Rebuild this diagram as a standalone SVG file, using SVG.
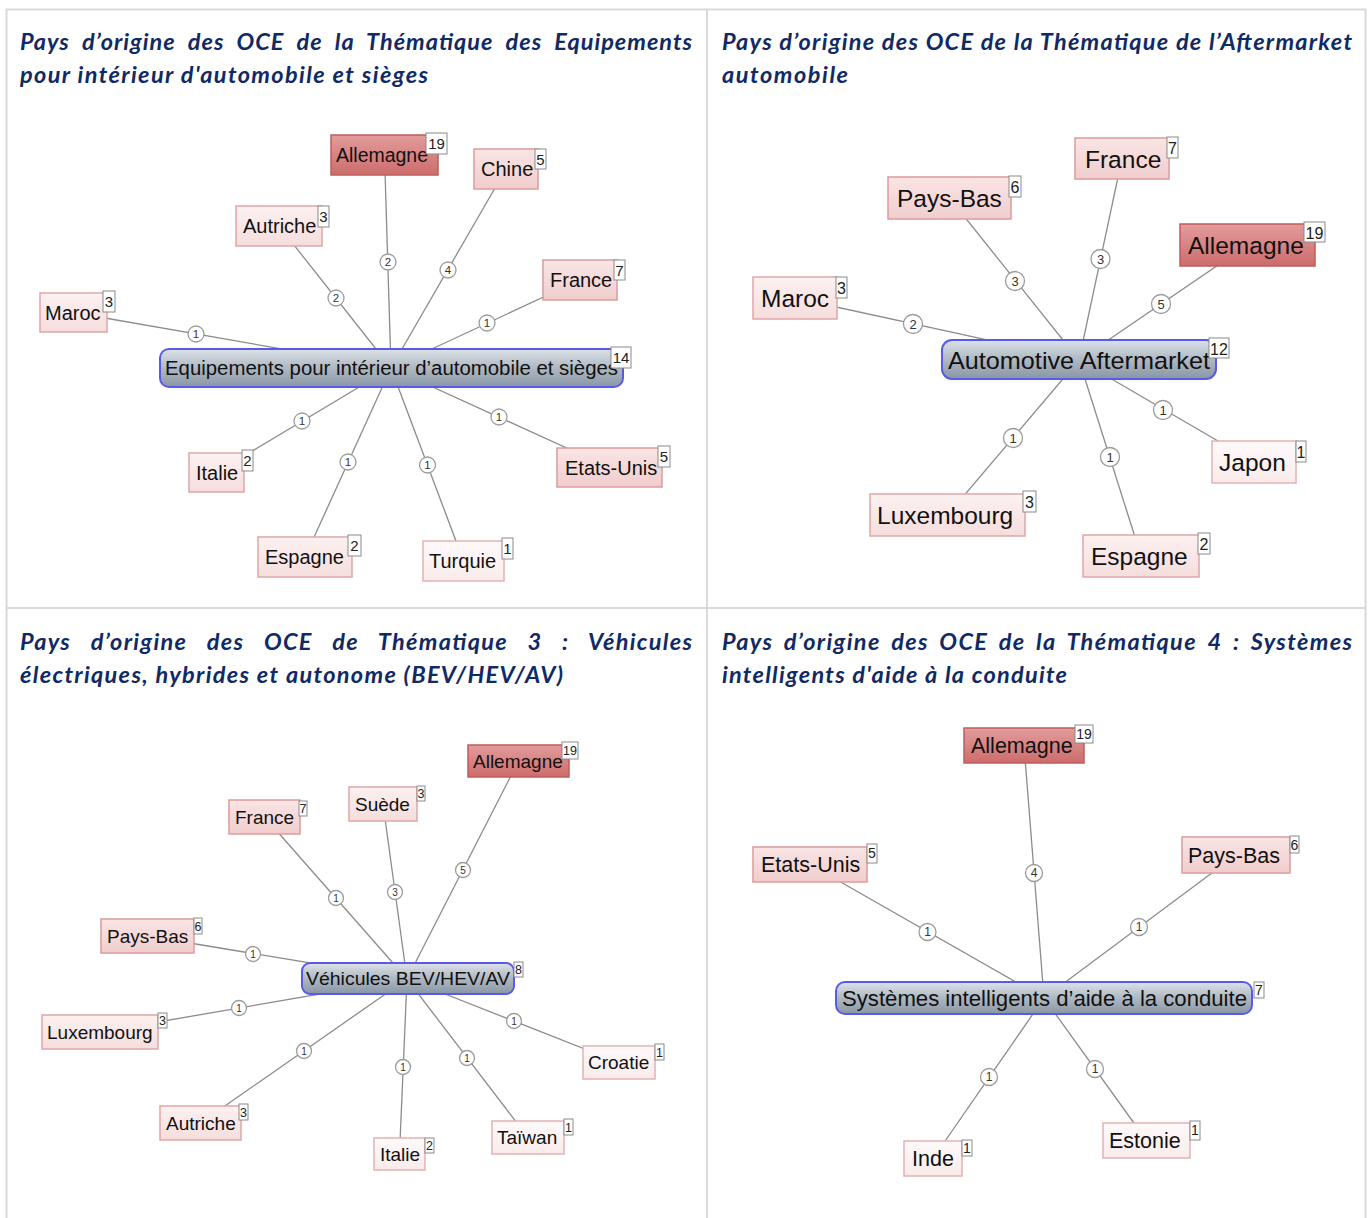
<svg xmlns="http://www.w3.org/2000/svg" width="1370" height="1218" viewBox="0 0 1370 1218">
<style>
.title{font-family:Lato,"Liberation Sans",sans-serif;font-weight:bold;font-style:italic;font-size:23.5px;fill:#102a66}
.t{font-family:"Liberation Sans",Arial,sans-serif;fill:#111}
.q1{font-size:20px}.q2{font-size:24.5px}.q3{font-size:19px}.q4{font-size:21.5px}
.b{fill:#fff;stroke:#8a8a8a;stroke-width:1}
.bt{font-family:"Liberation Sans",Arial,sans-serif;fill:#222;text-anchor:middle}
.e{stroke:#8c8c8c;stroke-width:1.3;fill:none}
.lc{fill:#fff;stroke:#9c9c9c;stroke-width:1.3}
.lt{font-family:"Liberation Sans",Arial,sans-serif;fill:#333;text-anchor:middle}
.c1{fill:url(#g1);stroke:#e4b2b2;stroke-width:1.5}
.c3{fill:url(#g3);stroke:#e0a6a6;stroke-width:1.5}
.c6{fill:url(#g6);stroke:#dc9c9c;stroke-width:1.5}
.c19{fill:url(#g19);stroke:#c05c5c;stroke-width:1.5}
.hub{fill:url(#gh);stroke:#5a5ae8;stroke-width:2}
.grid{fill:none;stroke:#d9d9d9;stroke-width:2}
</style>
<defs>
<linearGradient id="g1" x1="0" y1="0" x2="0" y2="1"><stop offset="0" stop-color="#fffafa"/><stop offset="1" stop-color="#f9ebeb"/></linearGradient>
<linearGradient id="g3" x1="0" y1="0" x2="0" y2="1"><stop offset="0" stop-color="#fdf1f1"/><stop offset="1" stop-color="#f5dddd"/></linearGradient>
<linearGradient id="g6" x1="0" y1="0" x2="0" y2="1"><stop offset="0" stop-color="#fae5e5"/><stop offset="1" stop-color="#f0cdcd"/></linearGradient>
<linearGradient id="g19" x1="0" y1="0" x2="0" y2="1"><stop offset="0" stop-color="#e39c9c"/><stop offset="1" stop-color="#cc6c6c"/></linearGradient>
<linearGradient id="gh" x1="0" y1="0" x2="0" y2="1"><stop offset="0" stop-color="#dde2e8"/><stop offset="0.45" stop-color="#b3bcc6"/><stop offset="1" stop-color="#8896a4"/></linearGradient>
</defs>
<rect width="1370" height="1218" fill="#fff"/>
<g id="table">
<rect class="grid" x="6.5" y="9.5" width="1359" height="1230"/>
<line class="grid" x1="707" y1="9.5" x2="707" y2="1218"/>
<line class="grid" x1="6.5" y1="608" x2="1365.5" y2="608"/>
</g>
<g id="titles">
<text class="title" x="20" y="50" word-spacing="6" textLength="672" lengthAdjust="spacing">Pays d’origine des OCE de la Thématique des Equipements</text>
<text class="title" x="20" y="83" textLength="408" lengthAdjust="spacing">pour intérieur d'automobile et sièges</text>
<text class="title" x="722" y="50" textLength="630" lengthAdjust="spacing">Pays d’origine des OCE de la Thématique de l’Aftermarket</text>
<text class="title" x="722" y="83" textLength="126" lengthAdjust="spacing">automobile</text>
<text class="title" x="20" y="650" word-spacing="13" textLength="672" lengthAdjust="spacing">Pays d’origine des OCE de Thématique 3 : Véhicules</text>
<text class="title" x="20" y="683" textLength="543" lengthAdjust="spacing">électriques, hybrides et autonome (BEV/HEV/AV)</text>
<text class="title" x="722" y="650" word-spacing="4" textLength="630" lengthAdjust="spacing">Pays d’origine des OCE de la Thématique 4 : Systèmes</text>
<text class="title" x="722" y="683" textLength="345" lengthAdjust="spacing">intelligents d'aide à la conduite</text>
</g>
<g id="connectors">
<g>
<line class="e" x1="73.5" y1="312.5" x2="391" y2="368"/>
<line class="e" x1="279" y1="226" x2="391" y2="368"/>
<line class="e" x1="384.5" y1="155" x2="391" y2="368"/>
<line class="e" x1="506" y1="169" x2="391" y2="368"/>
<line class="e" x1="580" y1="280" x2="391" y2="368"/>
<line class="e" x1="216.5" y1="472.5" x2="391" y2="368"/>
<line class="e" x1="305" y1="557" x2="391" y2="368"/>
<line class="e" x1="463.5" y1="561" x2="391" y2="368"/>
<line class="e" x1="609.5" y1="467.5" x2="391" y2="368"/>
<g font-size="11.5">
<circle class="lc" cx="196" cy="334" r="8"/><text class="lt" x="196" y="338">1</text>
<circle class="lc" cx="336" cy="298" r="8"/><text class="lt" x="336" y="302">2</text>
<circle class="lc" cx="388" cy="262" r="8"/><text class="lt" x="388" y="266">2</text>
<circle class="lc" cx="448" cy="270" r="8"/><text class="lt" x="448" y="274">4</text>
<circle class="lc" cx="487" cy="323" r="8"/><text class="lt" x="487" y="327">1</text>
<circle class="lc" cx="302" cy="421" r="8"/><text class="lt" x="302" y="425">1</text>
<circle class="lc" cx="348" cy="462" r="8"/><text class="lt" x="348" y="466">1</text>
<circle class="lc" cx="427.5" cy="465" r="8"/><text class="lt" x="427.5" y="469">1</text>
<circle class="lc" cx="499" cy="417" r="8"/><text class="lt" x="499" y="421">1</text>
</g>
</g>
<g>
<line class="e" x1="1122" y1="158.5" x2="1079" y2="360"/>
<line class="e" x1="949.5" y1="198" x2="1079" y2="360"/>
<line class="e" x1="1247.5" y1="245" x2="1079" y2="360"/>
<line class="e" x1="795" y1="298" x2="1079" y2="360"/>
<line class="e" x1="1254" y1="462" x2="1079" y2="360"/>
<line class="e" x1="1141" y1="556" x2="1079" y2="360"/>
<line class="e" x1="947.5" y1="515" x2="1079" y2="360"/>
<g font-size="13">
<circle class="lc" cx="913" cy="324" r="9.5"/><text class="lt" x="913" y="328.5">2</text>
<circle class="lc" cx="1015" cy="281" r="9.5"/><text class="lt" x="1015" y="285.5">3</text>
<circle class="lc" cx="1100.5" cy="259" r="9.5"/><text class="lt" x="1100.5" y="263.5">3</text>
<circle class="lc" cx="1161" cy="304" r="9.5"/><text class="lt" x="1161" y="308.5">5</text>
<circle class="lc" cx="1163" cy="410" r="9.5"/><text class="lt" x="1163" y="414.5">1</text>
<circle class="lc" cx="1110" cy="457" r="9.5"/><text class="lt" x="1110" y="461.5">1</text>
<circle class="lc" cx="1013" cy="438" r="9.5"/><text class="lt" x="1013" y="442.5">1</text>
</g>
</g>
<g>
<line class="e" x1="518.5" y1="761" x2="407" y2="979"/>
<line class="e" x1="383" y1="804" x2="407" y2="979"/>
<line class="e" x1="264.5" y1="817" x2="407" y2="979"/>
<line class="e" x1="147.5" y1="936" x2="407" y2="979"/>
<line class="e" x1="100" y1="1032" x2="407" y2="979"/>
<line class="e" x1="200.5" y1="1123" x2="407" y2="979"/>
<line class="e" x1="399.5" y1="1154" x2="407" y2="979"/>
<line class="e" x1="528" y1="1137.5" x2="407" y2="979"/>
<line class="e" x1="619" y1="1062.5" x2="407" y2="979"/>
<g font-size="10">
<circle class="lc" cx="463" cy="870" r="7.5"/><text class="lt" x="463" y="873.5">5</text>
<circle class="lc" cx="395" cy="892" r="7.5"/><text class="lt" x="395" y="895.5">3</text>
<circle class="lc" cx="336" cy="898" r="7.5"/><text class="lt" x="336" y="901.5">1</text>
<circle class="lc" cx="253" cy="954" r="7.5"/><text class="lt" x="253" y="957.5">1</text>
<circle class="lc" cx="239" cy="1008" r="7.5"/><text class="lt" x="239" y="1011.5">1</text>
<circle class="lc" cx="304" cy="1051" r="7.5"/><text class="lt" x="304" y="1054.5">1</text>
<circle class="lc" cx="403" cy="1067" r="7.5"/><text class="lt" x="403" y="1070.5">1</text>
<circle class="lc" cx="467" cy="1058" r="7.5"/><text class="lt" x="467" y="1061.5">1</text>
<circle class="lc" cx="514" cy="1021" r="7.5"/><text class="lt" x="514" y="1024.5">1</text>
</g>
</g>
<g>
<line class="e" x1="1024" y1="745.5" x2="1044" y2="998"/>
<line class="e" x1="810" y1="864.5" x2="1044" y2="998"/>
<line class="e" x1="1236" y1="855" x2="1044" y2="998"/>
<line class="e" x1="933" y1="1158.5" x2="1044" y2="998"/>
<line class="e" x1="1146.5" y1="1140.5" x2="1044" y2="998"/>
<g font-size="12">
<circle class="lc" cx="927.5" cy="932" r="8.5"/><text class="lt" x="927.5" y="936">1</text>
<circle class="lc" cx="1034" cy="873" r="8.5"/><text class="lt" x="1034" y="877">4</text>
<circle class="lc" cx="1139" cy="927" r="8.5"/><text class="lt" x="1139" y="931">1</text>
<circle class="lc" cx="989" cy="1077" r="8.5"/><text class="lt" x="989" y="1081">1</text>
<circle class="lc" cx="1095" cy="1069" r="8.5"/><text class="lt" x="1095" y="1073">1</text>
</g>
</g>
</g>
<g id="q1-center"><rect class="hub" x="160" y="349" width="463" height="38" rx="9"/><text class="t q1" x="165" y="375" textLength="453" lengthAdjust="spacingAndGlyphs">Equipements pour intérieur d’automobile et sièges</text><rect class="b" x="611" y="347" width="20" height="21"/><text class="bt" font-size="15" x="621" y="363">14</text></g>
<g id="q1-allemagne"><rect class="c19" x="331" y="135" width="107" height="40"/><text class="t q1" x="336" y="162" textLength="92" lengthAdjust="spacingAndGlyphs">Allemagne</text><rect class="b" x="426" y="133" width="21" height="21"/><text class="bt" font-size="15" x="436.5" y="149">19</text></g>
<g id="q1-chine"><rect class="c6" x="474" y="149" width="64" height="40"/><text class="t q1" x="481" y="176">Chine</text><rect class="b" x="535" y="149" width="11" height="20"/><text class="bt" font-size="15" x="540.5" y="165">5</text></g>
<g id="q1-autriche"><rect class="c3" x="236" y="206" width="86" height="40"/><text class="t q1" x="243" y="233">Autriche</text><rect class="b" x="318" y="206" width="11" height="21"/><text class="bt" font-size="15" x="323.5" y="222">3</text></g>
<g id="q1-france"><rect class="c6" x="543" y="260" width="74" height="40"/><text class="t q1" x="550" y="287">France</text><rect class="b" x="614" y="260" width="11" height="20"/><text class="bt" font-size="15" x="619.5" y="276">7</text></g>
<g id="q1-maroc"><rect class="c3" x="40" y="293" width="67" height="39"/><text class="t q1" x="45" y="319.5">Maroc</text><rect class="b" x="103" y="291" width="12" height="21"/><text class="bt" font-size="15" x="109" y="307">3</text></g>
<g id="q1-italie"><rect class="c3" x="189" y="453" width="55" height="39"/><text class="t q1" x="196" y="479.5">Italie</text><rect class="b" x="242" y="450" width="11" height="21"/><text class="bt" font-size="15" x="247.5" y="466">2</text></g>
<g id="q1-etats-unis"><rect class="c6" x="557" y="448" width="105" height="39"/><text class="t q1" x="565" y="474.5">Etats-Unis</text><rect class="b" x="658" y="446" width="12" height="21"/><text class="bt" font-size="15" x="664" y="462">5</text></g>
<g id="q1-espagne"><rect class="c3" x="258" y="537" width="94" height="40"/><text class="t q1" x="265" y="564">Espagne</text><rect class="b" x="348" y="535" width="13" height="21"/><text class="bt" font-size="15" x="354.5" y="551">2</text></g>
<g id="q1-turquie"><rect class="c1" x="423" y="541" width="81" height="40"/><text class="t q1" x="429" y="568">Turquie</text><rect class="b" x="502" y="538" width="11" height="21"/><text class="bt" font-size="15" x="507.5" y="554">1</text></g>
<g id="q2-center"><rect class="hub" x="942" y="340" width="274" height="39" rx="10"/><text class="t q2" x="948" y="369" textLength="262" lengthAdjust="spacingAndGlyphs">Automotive Aftermarket</text><rect class="b" x="1209" y="338" width="20" height="20"/><text class="bt" font-size="16" x="1219" y="354.5">12</text></g>
<g id="q2-france"><rect class="c6" x="1075" y="138" width="94" height="41"/><text class="t q2" x="1085" y="167.5">France</text><rect class="b" x="1167" y="137" width="11" height="21"/><text class="bt" font-size="16" x="1172.5" y="153.5">7</text></g>
<g id="q2-pays-bas"><rect class="c6" x="888" y="177" width="123" height="42"/><text class="t q2" x="897" y="207">Pays-Bas</text><rect class="b" x="1009" y="176" width="12" height="21"/><text class="bt" font-size="16" x="1015" y="192.5">6</text></g>
<g id="q2-allemagne"><rect class="c19" x="1180" y="224" width="135" height="42"/><text class="t q2" x="1188" y="254">Allemagne</text><rect class="b" x="1304" y="222" width="21" height="20"/><text class="bt" font-size="16" x="1314.5" y="238.5">19</text></g>
<g id="q2-maroc"><rect class="c3" x="753" y="277" width="84" height="42"/><text class="t q2" x="761" y="307">Maroc</text><rect class="b" x="836" y="277" width="11" height="21"/><text class="bt" font-size="16" x="841.5" y="293.5">3</text></g>
<g id="q2-japon"><rect class="c1" x="1212" y="441" width="84" height="42"/><text class="t q2" x="1219" y="471">Japon</text><rect class="b" x="1296" y="441" width="10" height="21"/><text class="bt" font-size="16" x="1301" y="457.5">1</text></g>
<g id="q2-espagne"><rect class="c3" x="1083" y="535" width="116" height="42"/><text class="t q2" x="1091" y="565">Espagne</text><rect class="b" x="1198" y="533" width="12" height="21"/><text class="bt" font-size="16" x="1204" y="549.5">2</text></g>
<g id="q2-luxembourg"><rect class="c3" x="870" y="494" width="155" height="42"/><text class="t q2" x="877" y="524">Luxembourg</text><rect class="b" x="1023" y="491" width="13" height="21"/><text class="bt" font-size="16" x="1029.5" y="507.5">3</text></g>
<g id="q3-center"><rect class="hub" x="302" y="963" width="212" height="31" rx="8"/><text class="t q3" x="306" y="985" textLength="204" lengthAdjust="spacingAndGlyphs">Véhicules BEV/HEV/AV</text><rect class="b" x="514" y="962" width="9" height="15"/><text class="bt" font-size="12.5" x="518.5" y="974">8</text></g>
<g id="q3-allemagne"><rect class="c19" x="468" y="745" width="101" height="32"/><text class="t q3" x="473" y="767.5">Allemagne</text><rect class="b" x="562" y="742" width="16" height="17"/><text class="bt" font-size="12.5" x="570" y="755">19</text></g>
<g id="q3-suede"><rect class="c3" x="349" y="787" width="68" height="34"/><text class="t q3" x="355" y="810.5">Suède</text><rect class="b" x="417" y="786" width="8" height="15"/><text class="bt" font-size="12.5" x="421" y="798">3</text></g>
<g id="q3-france"><rect class="c6" x="229" y="800" width="71" height="34"/><text class="t q3" x="235" y="823.5">France</text><rect class="b" x="299" y="801" width="8" height="15"/><text class="bt" font-size="12.5" x="303" y="813">7</text></g>
<g id="q3-pays-bas"><rect class="c6" x="101" y="919" width="93" height="34"/><text class="t q3" x="107" y="942.5">Pays-Bas</text><rect class="b" x="194" y="918" width="8" height="16"/><text class="bt" font-size="12.5" x="198" y="930.5">6</text></g>
<g id="q3-luxembourg"><rect class="c3" x="42" y="1015" width="116" height="34"/><text class="t q3" x="47" y="1038.5">Luxembourg</text><rect class="b" x="158" y="1013" width="9" height="15"/><text class="bt" font-size="12.5" x="162.5" y="1025">3</text></g>
<g id="q3-autriche"><rect class="c3" x="160" y="1106" width="81" height="34"/><text class="t q3" x="166" y="1129.5">Autriche</text><rect class="b" x="239" y="1104" width="9" height="16"/><text class="bt" font-size="12.5" x="243.5" y="1116.5">3</text></g>
<g id="q3-italie"><rect class="c1" x="374" y="1138" width="51" height="32"/><text class="t q3" x="380" y="1160.5">Italie</text><rect class="b" x="425" y="1138" width="9" height="15"/><text class="bt" font-size="12.5" x="429.5" y="1150">2</text></g>
<g id="q3-taiwan"><rect class="c1" x="492" y="1121" width="72" height="33"/><text class="t q3" x="497" y="1144">Taïwan</text><rect class="b" x="564" y="1119" width="9" height="16"/><text class="bt" font-size="12.5" x="568.5" y="1131.5">1</text></g>
<g id="q3-croatie"><rect class="c1" x="583" y="1046" width="72" height="33"/><text class="t q3" x="588" y="1069">Croatie</text><rect class="b" x="655" y="1044" width="9" height="16"/><text class="bt" font-size="12.5" x="659.5" y="1056.5">1</text></g>
<g id="q4-center"><rect class="hub" x="836" y="982" width="416" height="32" rx="9"/><text class="t q4" x="842" y="1005.5" textLength="405" lengthAdjust="spacingAndGlyphs">Systèmes intelligents d’aide à la conduite</text><rect class="b" x="1254" y="982" width="10" height="16"/><text class="bt" font-size="14" x="1259" y="995">7</text></g>
<g id="q4-allemagne"><rect class="c19" x="964" y="728" width="120" height="35"/><text class="t q4" x="971" y="753">Allemagne</text><rect class="b" x="1075" y="725" width="18" height="18"/><text class="bt" font-size="14" x="1084" y="739">19</text></g>
<g id="q4-etats-unis"><rect class="c6" x="753" y="847" width="114" height="35"/><text class="t q4" x="761" y="872">Etats-Unis</text><rect class="b" x="867" y="844" width="10" height="19"/><text class="bt" font-size="14" x="872" y="858">5</text></g>
<g id="q4-pays-bas"><rect class="c6" x="1182" y="837" width="108" height="36"/><text class="t q4" x="1188" y="862.5">Pays-Bas</text><rect class="b" x="1290" y="836" width="9" height="17"/><text class="bt" font-size="14" x="1294.5" y="849.5">6</text></g>
<g id="q4-inde"><rect class="c1" x="904" y="1141" width="58" height="35"/><text class="t q4" x="912" y="1166">Inde</text><rect class="b" x="962" y="1140" width="10" height="16"/><text class="bt" font-size="14" x="967" y="1153">1</text></g>
<g id="q4-estonie"><rect class="c1" x="1103" y="1123" width="87" height="35"/><text class="t q4" x="1109" y="1148">Estonie</text><rect class="b" x="1190" y="1121" width="10" height="19"/><text class="bt" font-size="14" x="1195" y="1135">1</text></g>
</svg>
